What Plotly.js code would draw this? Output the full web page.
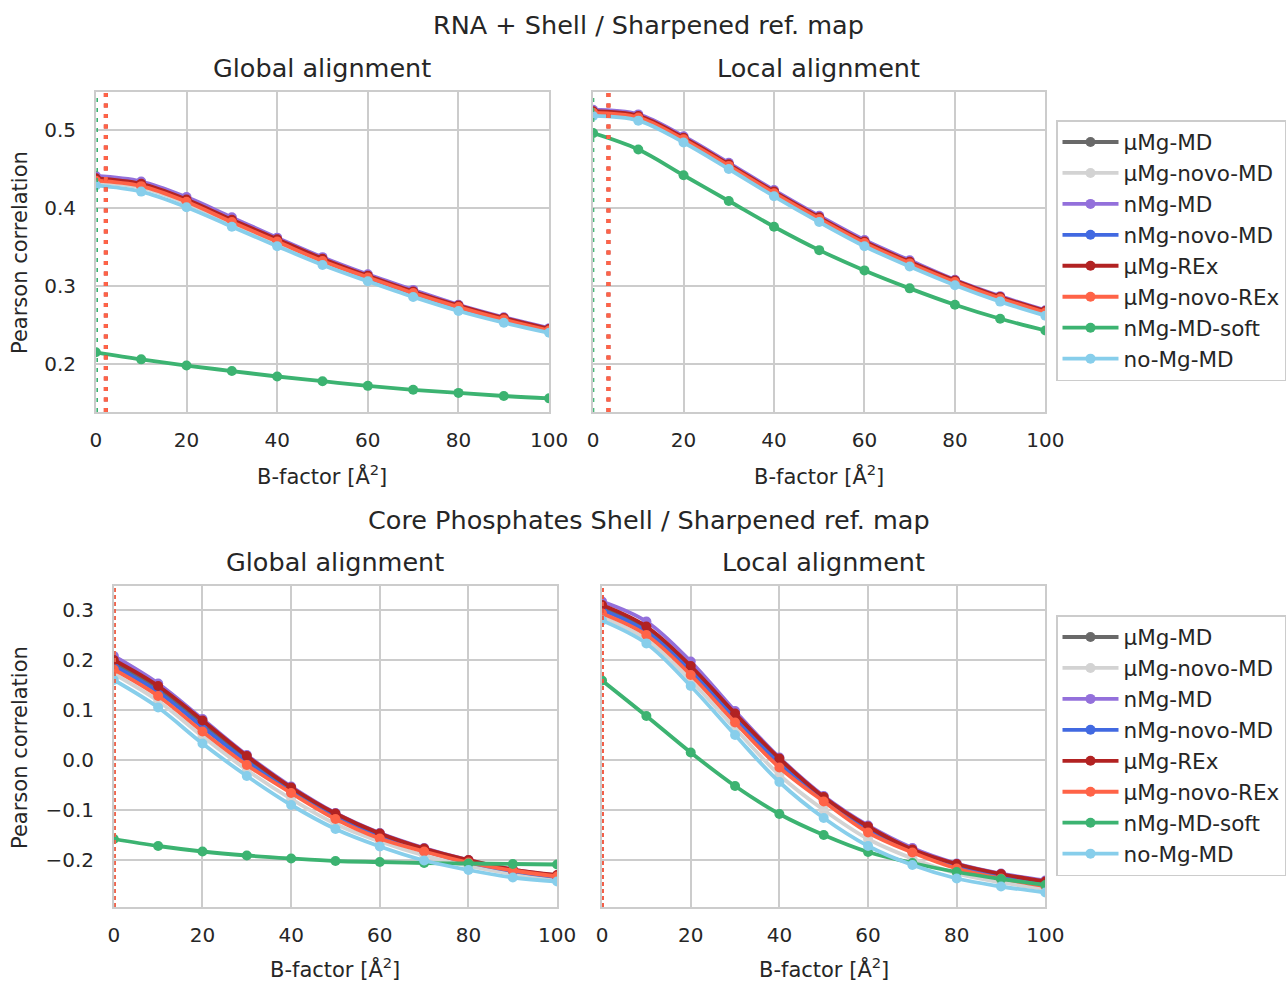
<!DOCTYPE html>
<html>
<head>
<meta charset="utf-8">
<script src="https://cdn.plot.ly/plotly-3.0.1.min.js"></script>
<style>body{margin:0;padding:0;background:#fff;} #chart{width:1286px;height:981px;}</style>
</head>
<body>
<div id="chart"></div>
<script>
// ---------------- data ----------------
const bFactor = [0, 10, 20, 30, 40, 50, 60, 70, 80, 90, 100];

const seriesNames = ["µMg-MD", "µMg-novo-MD", "nMg-MD", "nMg-novo-MD", "µMg-REx", "µMg-novo-REx", "nMg-MD-soft", "no-Mg-MD"];
const seriesColors = ["#696969", "#d3d3d3", "#9370db", "#4169e1", "#b22222", "#ff6347", "#3cb371", "#87ceeb"];

// RNA + Shell / Global alignment
const shellGlobal_uMgMD      = [0.437, 0.430, 0.410, 0.384, 0.359, 0.334, 0.312, 0.292, 0.274, 0.258, 0.244];
const shellGlobal_uMgNovoMD  = [0.433, 0.426, 0.406, 0.380, 0.355, 0.330, 0.309, 0.289, 0.271, 0.256, 0.242];
const shellGlobal_nMgMD      = [0.441, 0.434, 0.414, 0.388, 0.362, 0.337, 0.315, 0.295, 0.276, 0.260, 0.246];
const shellGlobal_nMgNovoMD  = [0.436, 0.429, 0.409, 0.383, 0.358, 0.333, 0.311, 0.291, 0.273, 0.257, 0.243];
const shellGlobal_uMgREx     = [0.438, 0.431, 0.411, 0.385, 0.360, 0.335, 0.313, 0.293, 0.275, 0.259, 0.245];
const shellGlobal_uMgNovoREx = [0.435, 0.428, 0.408, 0.382, 0.357, 0.332, 0.311, 0.291, 0.273, 0.257, 0.243];
const shellGlobal_nMgMDsoft  = [0.215, 0.206, 0.198, 0.191, 0.184, 0.178, 0.172, 0.167, 0.163, 0.159, 0.156];
const shellGlobal_noMgMD     = [0.429, 0.421, 0.401, 0.376, 0.351, 0.327, 0.306, 0.286, 0.268, 0.253, 0.240];

// RNA + Shell / Local alignment
const shellLocal_uMgMD      = [0.524, 0.518, 0.490, 0.456, 0.421, 0.388, 0.357, 0.331, 0.307, 0.286, 0.268];
const shellLocal_uMgNovoMD  = [0.520, 0.514, 0.486, 0.452, 0.417, 0.384, 0.353, 0.327, 0.303, 0.282, 0.264];
const shellLocal_nMgMD      = [0.526, 0.520, 0.492, 0.458, 0.423, 0.390, 0.359, 0.333, 0.308, 0.287, 0.269];
const shellLocal_nMgNovoMD  = [0.523, 0.517, 0.489, 0.455, 0.420, 0.387, 0.356, 0.330, 0.306, 0.285, 0.267];
const shellLocal_uMgREx     = [0.524, 0.518, 0.490, 0.456, 0.421, 0.388, 0.357, 0.331, 0.307, 0.286, 0.268];
const shellLocal_uMgNovoREx = [0.522, 0.516, 0.488, 0.454, 0.419, 0.386, 0.355, 0.329, 0.305, 0.284, 0.266];
const shellLocal_nMgMDsoft  = [0.496, 0.475, 0.442, 0.409, 0.376, 0.346, 0.320, 0.297, 0.276, 0.258, 0.243];
const shellLocal_noMgMD     = [0.518, 0.512, 0.484, 0.450, 0.415, 0.382, 0.351, 0.325, 0.301, 0.280, 0.262];

// Core Phosphates Shell / Global alignment
const coreGlobal_uMgMD      = [0.195, 0.143, 0.073, 0.003, -0.060, -0.111, -0.151, -0.180, -0.203, -0.221, -0.232];
const coreGlobal_uMgNovoMD  = [0.172, 0.118, 0.047, -0.020, -0.078, -0.128, -0.163, -0.191, -0.212, -0.228, -0.238];
const coreGlobal_nMgMD      = [0.208, 0.153, 0.082, 0.010, -0.053, -0.106, -0.146, -0.176, -0.200, -0.219, -0.231];
const coreGlobal_nMgNovoMD  = [0.188, 0.136, 0.066, -0.003, -0.064, -0.115, -0.154, -0.182, -0.205, -0.222, -0.234];
const coreGlobal_uMgREx     = [0.200, 0.148, 0.079, 0.008, -0.055, -0.107, -0.147, -0.177, -0.200, -0.219, -0.230];
const coreGlobal_uMgNovoREx = [0.181, 0.128, 0.057, -0.010, -0.066, -0.118, -0.157, -0.183, -0.205, -0.221, -0.233];
const coreGlobal_nMgMDsoft  = [-0.158, -0.172, -0.183, -0.191, -0.197, -0.202, -0.204, -0.206, -0.207, -0.208, -0.209];
const coreGlobal_noMgMD     = [0.160, 0.105, 0.033, -0.032, -0.090, -0.138, -0.173, -0.201, -0.220, -0.235, -0.243];

// Core Phosphates Shell / Local alignment
const coreLocal_uMgMD      = [0.305, 0.262, 0.183, 0.088, -0.002, -0.078, -0.137, -0.181, -0.211, -0.231, -0.246];
const coreLocal_uMgNovoMD  = [0.286, 0.241, 0.159, 0.063, -0.030, -0.100, -0.158, -0.197, -0.227, -0.245, -0.258];
const coreLocal_nMgMD      = [0.317, 0.277, 0.197, 0.098, 0.005, -0.072, -0.131, -0.176, -0.207, -0.227, -0.241];
const coreLocal_nMgNovoMD  = [0.300, 0.257, 0.178, 0.083, -0.007, -0.081, -0.140, -0.183, -0.214, -0.234, -0.249];
const coreLocal_uMgREx     = [0.310, 0.267, 0.188, 0.093, 0.003, -0.074, -0.133, -0.179, -0.208, -0.228, -0.243];
const coreLocal_uMgNovoREx = [0.293, 0.250, 0.170, 0.075, -0.015, -0.083, -0.145, -0.185, -0.217, -0.237, -0.252];
const coreLocal_nMgMDsoft  = [0.159, 0.088, 0.015, -0.052, -0.108, -0.150, -0.184, -0.206, -0.224, -0.238, -0.250];
const coreLocal_noMgMD     = [0.279, 0.233, 0.148, 0.050, -0.044, -0.116, -0.172, -0.210, -0.237, -0.253, -0.265];

// B-factor at which the correlation peaks (vertical marker lines)
const peakShellGlobal = {"nMg-MD-soft": 0.3, "µMg-REx": 2.2, "µMg-novo-REx": 2.2};
const peakShellLocal  = {"nMg-MD-soft": 0.1, "µMg-REx": 3.4, "µMg-novo-REx": 3.4};
const peakCoreGlobal  = {"µMg-MD": 0.3, "µMg-novo-REx": 0.3};
const peakCoreLocal   = {"µMg-REx": 0.2, "µMg-novo-REx": 0.2};

const xTickVals = [0, 20, 40, 60, 80, 100];
const yTickTop = [0.2, 0.3, 0.4, 0.5];
const yTickBottom = [-0.2, -0.1, 0.0, 0.1, 0.2, 0.3];

// ---------------- build ----------------
const panels = [
  {xa: "x",  ya: "y",  legend: "legend",  show: true,  data: [shellGlobal_uMgMD, shellGlobal_uMgNovoMD, shellGlobal_nMgMD, shellGlobal_nMgNovoMD, shellGlobal_uMgREx, shellGlobal_uMgNovoREx, shellGlobal_nMgMDsoft, shellGlobal_noMgMD], peaks: peakShellGlobal},
  {xa: "x2", ya: "y2", legend: "legend",  show: false, data: [shellLocal_uMgMD, shellLocal_uMgNovoMD, shellLocal_nMgMD, shellLocal_nMgNovoMD, shellLocal_uMgREx, shellLocal_uMgNovoREx, shellLocal_nMgMDsoft, shellLocal_noMgMD], peaks: peakShellLocal},
  {xa: "x3", ya: "y3", legend: "legend2", show: true,  data: [coreGlobal_uMgMD, coreGlobal_uMgNovoMD, coreGlobal_nMgMD, coreGlobal_nMgNovoMD, coreGlobal_uMgREx, coreGlobal_uMgNovoREx, coreGlobal_nMgMDsoft, coreGlobal_noMgMD], peaks: peakCoreGlobal},
  {xa: "x4", ya: "y4", legend: "legend2", show: false, data: [coreLocal_uMgMD, coreLocal_uMgNovoMD, coreLocal_nMgMD, coreLocal_nMgNovoMD, coreLocal_uMgREx, coreLocal_uMgNovoREx, coreLocal_nMgMDsoft, coreLocal_noMgMD], peaks: peakCoreLocal}
];

const traces = [];
const shapes = [];
panels.forEach((p, pi) => {
  const top = pi < 2;
  Object.keys(p.peaks).forEach(name => {
    const idx = seriesNames.indexOf(name);
    let dash, w;
    if (top) {
      if (name === "nMg-MD-soft") { dash = "4px,6px"; w = 1.6; }
      else { dash = "4px,6.5px"; w = 4; }
    } else { dash = "4px,3px"; w = 1.6; }
    shapes.push({type: "line", xref: p.xa, yref: p.ya + " domain", x0: p.peaks[name], x1: p.peaks[name], y0: 0, y1: 1,
      line: {color: seriesColors[idx], width: w, dash: dash}, layer: "above"});
  });
  p.data.forEach((vals, si) => {
    traces.push({
      type: "scatter", mode: "lines+markers",
      x: bFactor, y: vals, name: seriesNames[si],
      xaxis: p.xa, yaxis: p.ya, legend: p.legend, showlegend: p.show,
      line: {color: seriesColors[si], width: 3.8, shape: "spline", smoothing: 1},
      marker: {color: seriesColors[si], size: 10},
      hoverinfo: "x+y+name"
    });
  });
});

const FONT = "DejaVu Sans, sans-serif";
const TXT = "#262626";
const W = 1286, H = 981;
const px = v => v / W, py = v => 1 - v / H;

function xAxis(l, r, anchor) {
  return {domain: [px(l), px(r)], anchor: anchor, range: [0, 100], tickvals: xTickVals,
    showgrid: true, gridcolor: "#cccccc", gridwidth: 1.6, zeroline: false,
    showline: true, mirror: true, linecolor: "#cccccc", linewidth: 1.6,
    ticks: "outside", ticklen: 9, tickcolor: "rgba(0,0,0,0)",
    tickfont: {family: FONT, size: 20, color: TXT}};
}
function yAxis(t, b, anchor, range, tv, showLabels) {
  return {domain: [py(b), py(t)], anchor: anchor, range: range, tickvals: tv, tickformat: ".1f",
    showticklabels: showLabels,
    showgrid: true, gridcolor: "#cccccc", gridwidth: 1.6, zeroline: false,
    showline: true, mirror: true, linecolor: "#cccccc", linewidth: 1.6,
    ticks: "outside", ticklen: 14, tickcolor: "rgba(0,0,0,0)",
    tickfont: {family: FONT, size: 20, color: TXT}};
}

const topRange = [0.1385, 0.5487];
const botRange = [-0.294, 0.348];

function ann(text, x, y, size, angle) {
  return {text: text, xref: "paper", yref: "paper", x: px(x), y: py(y), xanchor: "center", yanchor: "middle",
    showarrow: false, textangle: angle || 0, font: {family: FONT, size: size, color: TXT}};
}

const legendCommon = {xanchor: "left", yanchor: "top", bgcolor: "rgba(255,255,255,0.8)",
  bordercolor: "#cccccc", borderwidth: 1.5, font: {family: FONT, size: 21.5, color: TXT}, itemwidth: 56};

const layout = {
  width: W, height: H, margin: {l: 0, r: 0, t: 0, b: 0},
  paper_bgcolor: "#ffffff", plot_bgcolor: "#ffffff",
  font: {family: FONT, color: TXT},
  xaxis:  xAxis(96, 550, "y"),
  xaxis2: xAxis(594, 1047, "y2"),
  xaxis3: xAxis(114, 558, "y3"),
  xaxis4: xAxis(603, 1047, "y4"),
  yaxis:  yAxis(92, 412, "x", topRange, yTickTop, true),
  yaxis2: yAxis(92, 412, "x2", topRange, yTickTop, false),
  yaxis3: yAxis(586, 907, "x3", botRange, yTickBottom, true),
  yaxis4: yAxis(586, 907, "x4", botRange, yTickBottom, false),
  legend:  Object.assign({x: px(1058), y: py(120)}, legendCommon),
  legend2: Object.assign({x: px(1058), y: py(615)}, legendCommon),
  shapes: shapes,
  annotations: [
    ann("RNA + Shell / Sharpened ref. map", 650, 25, 25.5),
    ann("Global alignment", 323, 68, 25.5),
    ann("Local alignment", 820, 68, 25.5),
    ann("Core Phosphates Shell / Sharpened ref. map", 650, 520, 25.5),
    ann("Global alignment", 336, 562, 25.5),
    ann("Local alignment", 825, 562, 25.5),
    ann("B-factor [Å<sup>2</sup>]", 323, 475, 21),
    ann("B-factor [Å<sup>2</sup>]", 820, 475, 21),
    ann("B-factor [Å<sup>2</sup>]", 336, 968, 21),
    ann("B-factor [Å<sup>2</sup>]", 825, 968, 21),
    ann("Pearson correlation", 20, 252, 21, -90),
    ann("Pearson correlation", 20, 747, 21, -90)
  ],
  showlegend: true
};

Plotly.newPlot("chart", traces, layout, {displayModeBar: false, responsive: false});
</script>
</body>
</html>
